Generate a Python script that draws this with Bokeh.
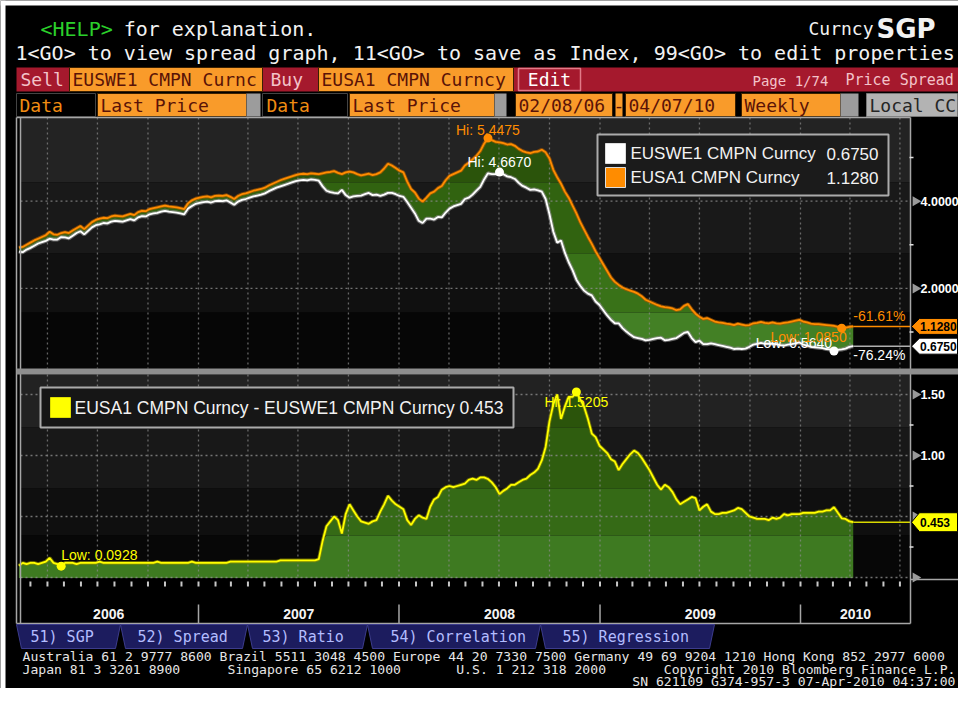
import numpy as np
import pandas as pd
from bokeh.plotting import figure
from bokeh.models import Range1d
from bokeh.core.properties import value
from bokeh.embed import file_html
from bokeh.resources import INLINE

# ---------------- data (weekly) ----------------
first_week = "2006-02-08"
eusa1 = [
    2.938, 2.95, 3.00, 3.05, 3.10, 3.14, 3.18, 3.22, 3.30, 3.24,
    3.23, 3.27, 3.29, 3.27, 3.33, 3.38, 3.43, 3.36, 3.44, 3.52,
    3.57, 3.60, 3.62, 3.61, 3.65, 3.67, 3.66, 3.65, 3.68, 3.71,
    3.68, 3.75, 3.78, 3.77, 3.82, 3.84, 3.86, 3.88, 3.90, 3.88,
    3.87, 3.86, 3.84, 3.82, 3.95, 4.02, 4.06,
    4.08, 4.10, 4.11, 4.09, 4.12, 4.13, 4.12, 4.14, 4.10, 4.05,
    4.12, 4.16, 4.18, 4.21, 4.24, 4.26, 4.28, 4.31, 4.36, 4.40,
    4.44, 4.48, 4.51, 4.54, 4.57, 4.60, 4.62, 4.63, 4.62, 4.64, 4.63,
    4.62, 4.64, 4.66, 4.67, 4.69, 4.65, 4.62, 4.66, 4.68, 4.66, 4.62,
    4.59, 4.61, 4.63, 4.60, 4.62, 4.66, 4.75, 4.86, 4.82, 4.76, 4.70,
    4.66, 4.45, 4.28, 4.20, 4.06, 3.99, 4.08, 4.18, 4.22, 4.30,
    4.35, 4.48, 4.58, 4.62, 4.66, 4.70, 4.82, 4.88, 4.96, 5.04,
    5.15, 5.32, 5.4475, 5.40, 5.36, 5.35, 5.33, 5.30, 5.31, 5.27,
    5.20, 5.15, 5.12, 5.10, 5.13, 5.14, 5.18, 5.12,
    4.98, 4.72, 4.55, 4.40, 4.22, 4.08, 3.90, 3.72, 3.52, 3.35,
    3.18, 3.02, 2.85, 2.70, 2.55, 2.40, 2.25, 2.15, 2.08, 2.02,
    1.98, 1.95, 1.92, 1.88, 1.82, 1.74, 1.70, 1.66, 1.62, 1.59,
    1.57, 1.56, 1.54, 1.50, 1.52, 1.60, 1.64, 1.52, 1.42, 1.35,
    1.30, 1.32, 1.28, 1.24, 1.22, 1.21, 1.19, 1.18, 1.16, 1.19,
    1.17, 1.15, 1.16, 1.20, 1.21, 1.23, 1.21, 1.20, 1.22, 1.20,
    1.19, 1.21, 1.22, 1.24, 1.26, 1.28, 1.24, 1.22, 1.19, 1.18,
    1.18, 1.17, 1.16, 1.15, 1.14, 1.12, 1.085, 1.10, 1.12, 1.128,
]
euswe1 = [
    2.841, 2.83, 2.89, 2.93, 2.98, 3.03, 3.06, 3.09, 3.14, 3.12,
    3.12, 3.1772, 3.17, 3.15, 3.21, 3.27, 3.31, 3.24, 3.32, 3.40,
    3.45, 3.47, 3.50, 3.49, 3.53, 3.55, 3.54, 3.53, 3.56, 3.59,
    3.56, 3.63, 3.66, 3.65, 3.70, 3.72, 3.73, 3.76, 3.78, 3.76,
    3.75, 3.74, 3.72, 3.70, 3.83, 3.89, 3.94,
    3.96, 3.98, 3.99, 3.97, 4.00, 4.01, 4.00, 4.02, 3.97, 3.92,
    3.99, 4.03, 4.05, 4.08, 4.11, 4.13, 4.15, 4.18, 4.23, 4.27,
    4.31, 4.34, 4.37, 4.40, 4.43, 4.46, 4.48, 4.49, 4.48, 4.50, 4.49,
    4.47, 4.34, 4.24, 4.21, 4.19, 4.18, 4.26, 4.14, 4.08, 4.11, 4.12,
    4.13, 4.16, 4.19, 4.14, 4.15, 4.12, 4.15, 4.19, 4.19, 4.16, 4.12,
    4.10, 3.98, 3.85, 3.72, 3.55, 3.50, 3.60, 3.60, 3.58, 3.64,
    3.63, 3.74, 3.83, 3.88, 3.91, 3.94, 4.05, 4.08, 4.15, 4.24,
    4.33, 4.50, 4.64, 4.62, 4.62, 4.667, 4.62, 4.57, 4.55, 4.51,
    4.42, 4.35, 4.31, 4.26, 4.27, 4.25, 4.22, 4.05,
    3.70, 3.30, 3.05, 3.10, 2.82, 2.60, 2.42, 2.1995, 2.06, 1.95,
    1.88, 1.84, 1.70, 1.62, 1.50, 1.38, 1.28, 1.20, 1.20, 1.09,
    1.01, 0.94, 0.88, 0.86, 0.84, 0.81, 0.82, 0.84, 0.86, 0.87,
    0.81, 0.82, 0.84, 0.86, 0.92, 0.98, 1.00, 0.86, 0.77, 0.80,
    0.72, 0.72, 0.74, 0.72, 0.70, 0.68, 0.66, 0.64, 0.61, 0.62,
    0.61, 0.62, 0.66, 0.71, 0.73, 0.75, 0.73, 0.73, 0.73, 0.72,
    0.70, 0.69, 0.71, 0.72, 0.74, 0.76, 0.71, 0.69, 0.66, 0.65,
    0.64, 0.63, 0.61, 0.60, 0.564, 0.59, 0.60, 0.62, 0.66, 0.675,
]
sell_name = "EUSWE1 CMPN Curncy"
buy_name = "EUSA1 CMPN Curncy"
top_label_ticks = [2.0, 4.0]
top_minor_ticks = [1.0, 3.0, 5.0]
bot_label_ticks = [1.0, 1.5]
bot_arrow_ticks = [0.0, 0.5, 1.0, 1.5]
bot_minor_ticks = [0.25, 0.75, 1.25]
year_labels = [2006, 2007, 2008, 2009, 2010]
tab_labels = ["51) SGP", "52) Spread", "53) Ratio", "54) Correlation", "55) Regression"]
header_help = "<HELP>"
header_line1 = "for explanation."
header_line2 = "1<GO> to view spread graph, 11<GO> to save as Index, 99<GO> to edit properties"
footer_line1 = ("Australia 61 2 9777 8600 Brazil 5511 3048 4500 Europe 44 20 7330 7500 "
                "Germany 49 69 9204 1210 Hong Kong 852 2977 6000")
footer_line2 = ["Japan 81 3 3201 8900", "Singapore 65 6212 1000", "U.S. 1 212 318 2000",
                "Copyright 2010 Bloomberg Finance L.P."]
footer_line3 = "SN 621109 G374-957-3 07-Apr-2010 04:37:00"

dates = pd.date_range(first_week, periods=len(eusa1), freq="7D")
buy = np.array(eusa1)
sell = np.array(euswe1)
spread = buy - sell

# ---------------- layout (image pixel coordinates) ----------------
FW, FH = 958, 688
T0, T1 = pd.Timestamp("2007-01-01"), pd.Timestamp("2010-01-01")
XT0, XT1 = 198.0, 800.0
PPD = (XT1 - XT0) / (T1 - T0).days


def x2t(x):
    return T0 + pd.Timedelta(days=(x - XT0) / PPD)


TOP_Y4, TOP_PPU = 200.7, 43.6
BOT_Y0, BOT_PPU = 577.0, 122.0


def y2top(y):
    return 4.0 + (TOP_Y4 - y) / TOP_PPU


def y2bot(y):
    return (BOT_Y0 - y) / BOT_PPU


PL, PR = 20, 910
TOP_T, TOP_B = 117, 368
BOT_T, BOT_B = 374, 578

p = figure(width=FW, height=FH, x_range=Range1d(0, FW), y_range=Range1d(FH, 0),
           x_axis_type=None, y_axis_type=None, toolbar_location=None, output_backend="svg",
           min_border=0, background_fill_color="black", border_fill_color="black",
           outline_line_color=None)
p.extra_x_ranges = {"t": Range1d(x2t(0), x2t(FW))}
p.extra_y_ranges = {"top": Range1d(y2top(FH), y2top(0)),
                    "bot": Range1d(y2bot(FH), y2bot(0))}

MONO = "DejaVu Sans Mono"
SANS = "Liberation Sans"


def box(x0, x1, y0, y1, fill, line=None, lw=1.0):
    p.quad(left=x0, right=x1, top=y0, bottom=y1, fill_color=fill,
           line_color=line, line_width=lw)


def txt(x, y, s, color, size, font=MONO, align="left", style="normal", **kw):
    p.text(x=[x], y=[y], text=[s], text_color=color, text_font=value(font),
           text_font_size=f"{size}px", text_align=align, text_baseline="middle",
           text_font_style=style, **kw)


# white page margin visible in the reference
box(0, 5, 0, FH, "#ffffff")
box(0, FW, 0, 5, "#ffffff")

# ---------------- header ----------------
HF = 20.0
cw = 0.594 * HF
txt(40, 28, header_help, "#2bd02b", HF)
txt(40 + (len(header_help) + 1) * cw, 28, header_line1, "#f2f2f2", HF)
txt(15, 52, header_line2, "#f2f2f2", HF)
txt(808, 28, "Curncy", "#f2f2f2", 18)
txt(876, 28, "SGP", "#f2f2f2", 26, font="DejaVu Sans", style="bold")

RED = "#a5192d"
ORANGE = "#f99b2a"
MAROON = "#5a1307"
PINK = "#f3c3c9"
GRAY = "#9c9c9c"

# row 3
box(16, FW, 67, 91, RED)
box(69, 262, 67, 91, ORANGE, "#3a2000")
box(318, 513, 67, 91, ORANGE, "#3a2000")
box(518, 580, 68, 90, RED, "#e27a88", 1.5)
txt(20, 79, "Sell", PINK, 18)
txt(72, 79, sell_name[:17], MAROON, 18)
txt(270, 79, "Buy", PINK, 18)
txt(321, 79, buy_name, MAROON, 18)
txt(549, 79, "Edit", "#ffffff", 18, align="center")
txt(752, 80, "Page 1/74", PINK, 14)
txt(845, 79, "Price Spread", PINK, 15)

# row 4
box(16, 95, 93, 116, "#000000", "#444444")
txt(19, 104.5, "Data", "#f08c12", 18)
box(97, 246, 93, 116, ORANGE, "#3a2000")
txt(100, 104.5, "Last Price", MAROON, 18)
box(246, 260, 93, 116, GRAY)
box(262, 347, 93, 116, "#000000", "#444444")
txt(266, 104.5, "Data", "#f08c12", 18)
box(349, 494, 93, 116, ORANGE, "#3a2000")
txt(352, 104.5, "Last Price", MAROON, 18)
box(494, 506, 93, 116, GRAY)
box(515, 612, 93, 116, ORANGE, "#3a2000")
txt(518, 104.5, dates[0].strftime("%m/%d/%y"), MAROON, 18)
box(615, 622, 93, 116, ORANGE)
txt(618.5, 104.5, "-", MAROON, 18, align="center")
box(625, 735, 93, 116, ORANGE, "#3a2000")
txt(628, 104.5, dates[-1].strftime("%m/%d/%y"), MAROON, 18)
box(741, 840, 93, 116, ORANGE, "#3a2000")
txt(744, 104.5, "Weekly", MAROON, 18)
box(840, 858, 93, 116, GRAY)
box(866, FW - 1, 93, 116, "#b3b3b3", "#777777")
txt(869, 104.5, "Local CC", "#262626", 18)

# ---------------- panel backgrounds ----------------
top_bands = [(TOP_T, 182, "#232323", "#2b540b"), (182, 253, "#191919", "#316310"),
             (253, 312, "#101010", "#397218"), (312, TOP_B, "#060606", "#438025")]
bot_bands = [(BOT_T, 427, "#222222", "#2b540b"), (427, 488, "#181818", "#2f5d0f"),
             (488, 535, "#0f0f0f", "#356a16"), (535, BOT_B, "#070707", "#3e7a21")]
for y0, y1, bg, _ in top_bands:
    box(PL, PR, y0, y1, bg)
for y0, y1, bg, _ in bot_bands:
    box(PL, PR, y0, y1, bg)

for y0, y1, _, g in top_bands:
    lo_v, hi_v = y2top(y1), y2top(y0)
    p.varea(x=dates, y1=np.clip(sell, lo_v, hi_v), y2=np.clip(buy, lo_v, hi_v),
            fill_color=g, x_range_name="t", y_range_name="top")
for y0, y1, _, g in bot_bands:
    lo_v, hi_v = y2bot(min(y1, BOT_Y0 + 0.5)), y2bot(y0)
    p.varea(x=dates, y1=np.full(len(dates), lo_v), y2=np.clip(spread, lo_v, hi_v),
            fill_color=g, x_range_name="t", y_range_name="bot")

# ---------------- grid ----------------
qdates = pd.date_range("2006-04-01", "2010-07-01", freq="QS")
for y0, y1 in [(TOP_T, TOP_B), (BOT_T, BOT_B)]:
    p.segment(x0=qdates, x1=qdates, y0=y0, y1=y1, x_range_name="t",
              line_color="#8c8c8c", line_dash="2 3", line_width=1.3, line_alpha=0.7)
p.segment(x0=PL, x1=PR, y0=top_label_ticks, y1=top_label_ticks, y_range_name="top",
          line_color="#8c8c8c", line_dash="2 3", line_width=1.3, line_alpha=0.8)
p.segment(x0=PL, x1=PR, y0=bot_arrow_ticks, y1=bot_arrow_ticks, y_range_name="bot",
          line_color="#8c8c8c", line_dash="2 3", line_width=1.3, line_alpha=0.8)

# ---------------- series lines ----------------
p.line(dates, sell, line_color="#8a8a8a", line_width=4, line_alpha=0.7, x_range_name="t", y_range_name="top")
p.line(dates, sell, line_color="#ffffff", line_width=1.8, x_range_name="t", y_range_name="top")
p.line(dates, buy, line_color="#a85a00", line_width=3.6, line_alpha=0.7, x_range_name="t", y_range_name="top")
p.line(dates, buy, line_color="#ff8c00", line_width=1.8, x_range_name="t", y_range_name="top")
p.line(dates, spread, line_color="#8c8c00", line_width=3.6, line_alpha=0.7, x_range_name="t", y_range_name="bot")
p.line(dates, spread, line_color="#ffff00", line_width=1.8, x_range_name="t", y_range_name="bot")

t_end = x2t(PR)
p.segment(x0=[dates[-1]], x1=[t_end], y0=[buy[-1]], y1=[buy[-1]], line_color="#ff8c00",
          line_width=1.5, x_range_name="t", y_range_name="top")
p.segment(x0=[dates[-1]], x1=[t_end], y0=[sell[-1]], y1=[sell[-1]], line_color="#b0b0b0",
          line_width=1.5, x_range_name="t", y_range_name="top")
p.segment(x0=[dates[-1]], x1=[t_end], y0=[spread[-1]], y1=[spread[-1]], line_color="#d8d800",
          line_width=1.5, x_range_name="t", y_range_name="bot")

# ---------------- borders ----------------
BC = "#a6a6a6"
p.segment(x0=[16, 16, 20, PR, 16], x1=[PR, 16, 20, PR, PR],
          y0=[TOP_T, TOP_T, TOP_T, TOP_T, 623], y1=[TOP_T, 623, 623, 623, 623],
          line_color=BC, line_width=1.5)
box(16, FW, 368, 374, "#8e8e8e")
p.segment(x0=[PR], x1=[FW], y0=[579], y1=[579], line_color=BC, line_width=1.5)

mdates = pd.date_range("2006-03-01", "2010-07-01", freq="MS")
p.segment(x0=mdates, x1=mdates, y0=581, y1=586, x_range_name="t", line_color="#c8c8c8", line_width=2)
ybounds = [pd.Timestamp(f"{y}-01-01") for y in year_labels[1:]]
p.segment(x0=ybounds, x1=ybounds, y0=604, y1=623, x_range_name="t", line_color=BC, line_width=1.5)
ymid = []
for y in year_labels:
    a = max(pd.Timestamp(f"{y}-01-01"), dates[0])
    b = min(pd.Timestamp(f"{y + 1}-01-01"), t_end)
    ymid.append(a + (b - a) / 2)
p.text(x=ymid, y=613, text=[str(y) for y in year_labels], x_range_name="t",
       text_color="#f4f4f4", text_font=value(SANS), text_font_size="14px",
       text_font_style="bold", text_align="center", text_baseline="middle")

# ---------------- right axes ----------------
p.scatter(x=915, y=top_label_ticks, y_range_name="top", marker="triangle", angle=-np.pi / 2,
          size=10, fill_color="#9a9a9a", line_color=None)
p.scatter(x=915, y=bot_arrow_ticks, y_range_name="bot", marker="triangle", angle=-np.pi / 2,
          size=10, fill_color="#9a9a9a", line_color=None)
p.segment(x0=909, x1=913, y0=top_minor_ticks, y1=top_minor_ticks, y_range_name="top",
          line_color="#e0e0e0", line_width=1.5)
p.segment(x0=909, x1=913, y0=bot_minor_ticks, y1=bot_minor_ticks, y_range_name="bot",
          line_color="#e0e0e0", line_width=1.5)
p.text(x=920, y=top_label_ticks, text=[f"{v:.4f}" for v in top_label_ticks], y_range_name="top",
       text_color="#ffffff", text_font=value(SANS), text_font_size="12.5px", text_font_style="bold",
       text_baseline="middle")
p.text(x=920, y=bot_label_ticks, text=[f"{v:.2f}" for v in bot_label_ticks], y_range_name="bot",
       text_color="#ffffff", text_font=value(SANS), text_font_size="12.5px", text_font_style="bold",
       text_baseline="middle")


def tag(v, rng, ppu, fill, label, h=8.0):
    dh = h / ppu
    p.patch(x=[911, 919, FW - 1, FW - 1, 919], y=[v, v + dh, v + dh, v - dh, v - dh], y_range_name=rng,
            fill_color=fill, line_color="#000000", line_width=1)
    p.text(x=[919.5], y=[v], text=[label], y_range_name=rng, text_color="#000000",
           text_font=value(SANS), text_font_size="12px", text_font_style="bold",
           text_baseline="middle")


tag(buy[-1], "top", TOP_PPU, "#ff8c00", f"{buy[-1]:.4f}")
tag(sell[-1], "top", TOP_PPU, "#ffffff", f"{sell[-1]:.4f}")
tag(spread[-1], "bot", BOT_PPU, "#ffff00", f"{spread[-1]:.3f}", h=9.5)


# ---------------- hi / low markers and labels ----------------
def mark(i, series, rng, color, label, dx, dy, align="left"):
    p.scatter(x=[dates[i]], y=[series[i]], size=9, fill_color=color, line_color=None,
              x_range_name="t", y_range_name=rng)
    p.text(x=[dates[i]], y=[series[i]], text=[label], x_offset=dx, y_offset=dy,
           x_range_name="t", y_range_name=rng, text_color=color, text_font=value(SANS),
           text_font_size="14px", text_align=align, text_baseline="middle")


ib_hi, ib_lo = int(buy.argmax()), int(buy.argmin())
is_hi, is_lo = int(sell.argmax()), int(sell.argmin())
isp_hi, isp_lo = int(spread.argmax()), int(spread.argmin())
mark(ib_hi, buy, "top", "#ff8c00", f"Hi: {buy[ib_hi]:.4f}", -32, -8)
mark(is_hi, sell, "top", "#ffffff", f"Hi: {sell[is_hi]:.4f}", -32, -10)
mark(is_lo, sell, "top", "#ffffff", f"Low: {sell[is_lo]:.4f}", -2, -8, align="right")
mark(ib_lo, buy, "top", "#ff8c00", f"Low: {buy[ib_lo]:.4f}", 5, 9, align="right")
mark(isp_hi, spread, "bot", "#ffff00", f"Hi: {spread[isp_hi]:.4f}", -32, 10)
mark(isp_lo, spread, "bot", "#ffff00", f"Low: {spread[isp_lo]:.4f}", 0, -11)

pct_buy = (buy[-1] / buy[0] - 1) * 100
pct_sell = (sell[-1] / sell[0] - 1) * 100
p.text(x=[dates[-1]], y=[buy[-1]], text=[f"{pct_buy:.2f}%"], x_offset=0, y_offset=-10,
       x_range_name="t", y_range_name="top", text_color="#ff8c00", text_font=value(SANS),
       text_font_size="14px", text_baseline="middle")
p.text(x=[dates[-1]], y=[sell[-1]], text=[f"{pct_sell:.2f}%"], x_offset=0, y_offset=9,
       x_range_name="t", y_range_name="top", text_color="#ffffff", text_font=value(SANS),
       text_font_size="14px", text_baseline="middle")

# ---------------- legends ----------------
box(597, 888, 134, 195, "#1b1b1b", "#ababab", 2)
box(605, 625, 143, 163, "#ffffff", "#dddddd")
box(605, 625, 167, 187, "#ff8c00", "#dddddd")
txt(630, 153, sell_name, "#f2f2f2", 17, font=SANS)
txt(878, 153, f"{sell[-1]:.4f}", "#f2f2f2", 17, font=SANS, align="right")
txt(630, 177, buy_name, "#f2f2f2", 17, font=SANS)
txt(878, 177, f"{buy[-1]:.4f}", "#f2f2f2", 17, font=SANS, align="right")

box(40, 513, 387, 427, "#161616", "#ababab", 2)
box(50, 70, 397, 417, "#ffff00", "#dddd00")
txt(74, 407, f"{buy_name} - {sell_name} {spread[-1]:.3f}", "#f2f2f2", 17.5, font=SANS)

# ---------------- tabs ----------------
tab_edges = [16, 120, 247, 367, 540, 714]
tab_text_x = [30, 137, 262, 390, 562]
p.patches(xs=[[tab_edges[i], tab_edges[i + 1], tab_edges[i + 1] - 5, tab_edges[i] + 5] for i in range(5)],
          ys=[[624, 624, 648, 648]] * 5, fill_color="#1c1c5e", line_color="#3c3c8c", line_width=1)
p.text(x=tab_text_x, y=636.5, text=tab_labels, text_color="#b3bdff", text_font=value(MONO),
       text_font_size="15px", text_baseline="middle")

# ---------------- footer ----------------
FF = 13.1
fcw = 0.602 * FF
txt(22, 656, footer_line1, "#e6e6e6", FF)
for col, s in zip([0, 26, 55], footer_line2[:3]):
    txt(22 + col * fcw, 668.5, s, "#e6e6e6", FF)
txt(955, 668.5, footer_line2[3], "#e6e6e6", FF, align="right")
txt(955, 681, footer_line3, "#e6e6e6", FF, align="right")

open("out.html", "w").write(file_html(p, INLINE))
